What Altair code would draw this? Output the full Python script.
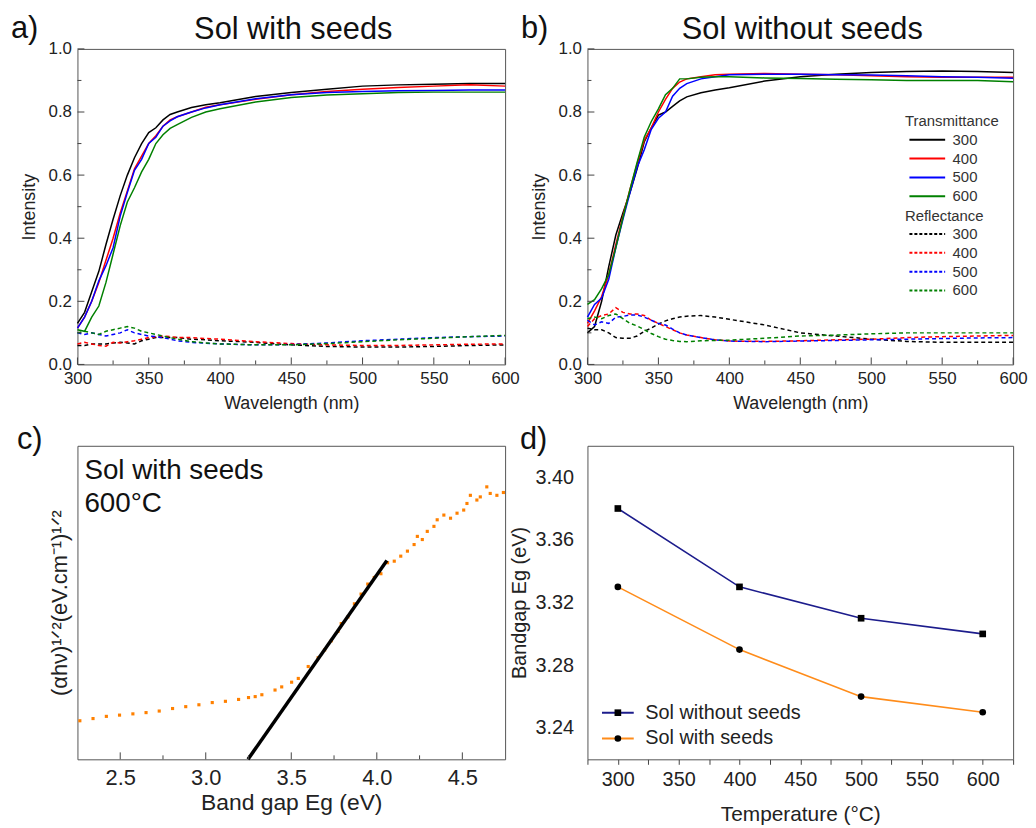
import altair as alt
import pandas as pd

# ---------------- data ----------------
WL = [300, 305, 310, 315, 320, 325, 330, 335, 340, 345, 350, 355, 360, 365, 370,
      380, 390, 400, 425, 450, 475, 500, 525, 550, 575, 600]

# panel a : Sol with seeds
A_T300 = [0.13, 0.165, 0.23, 0.295, 0.38, 0.46, 0.535, 0.60, 0.655, 0.70, 0.735, 0.75, 0.775, 0.792, 0.80,
          0.814, 0.823, 0.829, 0.849, 0.862, 0.872, 0.882, 0.886, 0.888, 0.890, 0.890]
A_T400 = [0.115, 0.15, 0.20, 0.26, 0.33, 0.40, 0.48, 0.55, 0.62, 0.66, 0.70, 0.725, 0.755, 0.775, 0.785,
          0.80, 0.815, 0.823, 0.84, 0.855, 0.865, 0.872, 0.878, 0.882, 0.886, 0.882]
A_T500 = [0.115, 0.15, 0.20, 0.265, 0.313, 0.37, 0.47, 0.545, 0.615, 0.65, 0.70, 0.72, 0.755, 0.772, 0.785,
          0.80, 0.813, 0.823, 0.842, 0.855, 0.862, 0.865, 0.867, 0.868, 0.87, 0.87]
A_T600 = [0.11, 0.105, 0.15, 0.185, 0.26, 0.35, 0.44, 0.515, 0.56, 0.61, 0.65, 0.70, 0.728, 0.748, 0.76,
          0.783, 0.80, 0.81, 0.832, 0.846, 0.854, 0.858, 0.862, 0.863, 0.863, 0.863]
A_R300 = [0.06, 0.06, 0.065, 0.065, 0.065, 0.068, 0.07, 0.068, 0.065, 0.075, 0.08, 0.085, 0.085, 0.085, 0.085,
          0.08, 0.078, 0.075, 0.07, 0.062, 0.057, 0.055, 0.055, 0.057, 0.06, 0.062]
A_R400 = [0.065, 0.07, 0.065, 0.06, 0.058, 0.07, 0.068, 0.072, 0.075, 0.08, 0.085, 0.088, 0.09, 0.088, 0.085,
          0.085, 0.082, 0.08, 0.072, 0.066, 0.062, 0.06, 0.06, 0.062, 0.064, 0.065]
A_R500 = [0.10, 0.095, 0.10, 0.095, 0.09, 0.095, 0.10, 0.11, 0.10, 0.095, 0.09, 0.088, 0.085, 0.08, 0.075,
          0.07, 0.067, 0.065, 0.062, 0.063, 0.068, 0.075, 0.08, 0.085, 0.088, 0.09]
A_R600 = [0.10, 0.105, 0.10, 0.095, 0.105, 0.11, 0.115, 0.12, 0.115, 0.105, 0.10, 0.095, 0.09, 0.085, 0.08,
          0.072, 0.068, 0.065, 0.062, 0.062, 0.066, 0.072, 0.078, 0.083, 0.088, 0.092]

# panel b : Sol without seeds
B_T300 = [0.10, 0.12, 0.20, 0.31, 0.41, 0.48, 0.545, 0.62, 0.705, 0.75, 0.79, 0.80, 0.818, 0.835, 0.848,
          0.861, 0.87, 0.877, 0.898, 0.912, 0.92, 0.925, 0.928, 0.93, 0.928, 0.925]
B_T400 = [0.13, 0.17, 0.215, 0.285, 0.38, 0.47, 0.555, 0.635, 0.71, 0.75, 0.80, 0.84, 0.875, 0.895, 0.905,
          0.912, 0.918, 0.92, 0.922, 0.92, 0.918, 0.915, 0.912, 0.91, 0.91, 0.91]
B_T500 = [0.15, 0.19, 0.21, 0.27, 0.37, 0.46, 0.545, 0.625, 0.68, 0.745, 0.78, 0.80, 0.85, 0.875, 0.89,
          0.905, 0.912, 0.918, 0.92, 0.92, 0.918, 0.917, 0.915, 0.912, 0.91, 0.907]
B_T600 = [0.19, 0.205, 0.24, 0.285, 0.37, 0.465, 0.555, 0.64, 0.72, 0.77, 0.81, 0.855, 0.875, 0.905, 0.905,
          0.91, 0.912, 0.912, 0.908, 0.906, 0.904, 0.902, 0.90, 0.90, 0.90, 0.896]
B_R300 = [0.115, 0.11, 0.11, 0.10, 0.085, 0.083, 0.083, 0.09, 0.105, 0.115, 0.128, 0.138, 0.145, 0.15, 0.153,
          0.155, 0.15, 0.143, 0.125, 0.10, 0.09, 0.08, 0.073, 0.07, 0.07, 0.07]
B_R400 = [0.12, 0.145, 0.155, 0.16, 0.18, 0.165, 0.16, 0.16, 0.155, 0.14, 0.13, 0.12, 0.11, 0.10, 0.093,
          0.085, 0.078, 0.074, 0.073, 0.075, 0.078, 0.08, 0.085, 0.088, 0.09, 0.092]
B_R500 = [0.14, 0.125, 0.135, 0.13, 0.15, 0.152, 0.157, 0.157, 0.15, 0.14, 0.13, 0.125, 0.112, 0.10, 0.093,
          0.085, 0.078, 0.074, 0.072, 0.074, 0.076, 0.078, 0.08, 0.082, 0.084, 0.085]
B_R600 = [0.145, 0.15, 0.145, 0.155, 0.16, 0.145, 0.13, 0.122, 0.11, 0.098, 0.088, 0.08, 0.076, 0.073, 0.072,
          0.075, 0.076, 0.077, 0.083, 0.09, 0.093, 0.097, 0.10, 0.10, 0.10, 0.10]

TEMPS = ["300", "400", "500", "600"]
LINE_COLORS = ["#000000", "#ff0000", "#0000ff", "#008000"]

X_MAJOR = [300, 350, 400, 450, 500, 550, 600]
X_MINOR = [325, 375, 425, 475, 525, 575]
Y_MAJOR = [0.0, 0.2, 0.4, 0.6, 0.8, 1.0]
Y_MINOR = [0.1, 0.3, 0.5, 0.7, 0.9]

# panel c : Tauc plot, Sol with seeds 600 C (arbitrary y units)
C_E = [2.264, 2.341, 2.419, 2.496, 2.574, 2.651, 2.728, 2.806, 2.883, 2.960, 3.038, 3.115, 3.192, 3.250,
       3.289, 3.328, 3.405, 3.444, 3.502, 3.541, 3.599, 3.657, 3.695, 3.734, 3.773, 3.792, 3.831, 3.869,
       3.908, 3.947, 3.985, 4.024, 4.063, 4.102, 4.140, 4.179, 4.218, 4.237, 4.266, 4.295, 4.334, 4.353,
       4.392, 4.431, 4.469, 4.508, 4.527, 4.547, 4.585, 4.605, 4.643, 4.663, 4.702, 4.740]
C_Y = [12.3, 13.0, 13.7, 14.1, 14.5, 14.9, 15.4, 16.2, 16.8, 17.4, 18.1, 18.5, 19.1, 19.7,
       20.0, 20.6, 22.1, 23.1, 24.6, 25.8, 29.6, 32.4, 34.9, 37.8, 40.8, 43.3, 45.4, 49.6,
       52.7, 55.9, 58.0, 59.2, 62.7, 63.2, 64.8, 66.4, 68.5, 71.1, 70.1, 72.7, 74.3, 76.4,
       77.9, 76.9, 78.5, 79.5, 81.6, 84.2, 82.7, 83.7, 86.9, 84.8, 84.2, 85.1]
FIT_E = [3.247, 4.059]
FIT_Y = [0.0, 63.4]
CX_MAJOR = [2.5, 3.0, 3.5, 4.0, 4.5]
CX_MINOR = [2.75, 3.25, 3.75, 4.25]

# panel d : band gap vs temperature
D_TEMP = [300, 400, 500, 600]
D_NOSEED = [3.38, 3.33, 3.31, 3.30]
D_SEED = [3.33, 3.29, 3.26, 3.25]
D_SERIES = ["Sol without seeds", "Sol with seeds"]
D_MARK_KEYS = ["without", "with"]
D_COLORS = ["#1c1c8c", "#ff8c1a"]
D_SHAPES = ["square", "circle"]
D_XTICKS = [275, 300, 325, 350, 375, 400, 425, 450, 475, 500, 525, 550, 575, 600, 625]
D_YTICKS = [3.24, 3.28, 3.32, 3.36, 3.40]

PANEL_LABELS = ["a)", "b)", "c)", "d)"]
PANEL_TITLES = ["Sol with seeds", "Sol without seeds"]
C_NOTES = ["Sol with seeds", "600°C"]

# ---------------- styling ----------------
FONT = "Liberation Sans"
AX = "#444444"
TXT = "#222222"
W1, W2 = 431, 429
H1, H2 = 318, 316


def long_df(series, key):
    rows = []
    for t, vals in zip(TEMPS, series):
        for w, v in zip(WL, vals):
            rows.append({"wl": w, "val": v, key: t})
    return pd.DataFrame(rows)


def label_chart(text, x, y, size=30, align="left"):
    return alt.Chart(pd.DataFrame({"t": [text]})).mark_text(
        align=align, baseline="alphabetic", fontSize=size, font=FONT, color="#111111"
    ).encode(text="t:N", x=alt.value(x), y=alt.value(y))


def xtick_layer(vals, scale, axis, length, H):
    return alt.Chart(pd.DataFrame({"v": vals})).mark_rule(color=AX, strokeWidth=1).encode(
        x=alt.X("v:Q", scale=scale, axis=axis), y=alt.value(H), y2=alt.value(H - length))


def ytick_layer(vals, scale, axis, length):
    return alt.Chart(pd.DataFrame({"v": vals})).mark_rule(color=AX, strokeWidth=1).encode(
        y=alt.Y("v:Q", scale=scale, axis=axis), x=alt.value(0), x2=alt.value(length))


def spectra(T, R, title, label, W, show_legend):
    xs = alt.Scale(domain=[300, 600], nice=False, zero=False)
    ys = alt.Scale(domain=[0, 1], nice=False)
    xax = alt.Axis(title="Wavelength (nm)", values=X_MAJOR, format="d", ticks=False, domain=False,
                   grid=False, labelFontSize=17, titleFontSize=18, labelPadding=6, titlePadding=8,
                   labelFlush=False)
    yax = alt.Axis(title="Intensity", values=Y_MAJOR, format=".1f", ticks=False, domain=False,
                   grid=False, labelFontSize=17, titleFontSize=18, labelPadding=6, titlePadding=10,
                   labelFlush=False)
    if show_legend:
        common = dict(orient="none", symbolType="M-1,0L11,0", symbolSize=36, symbolStrokeWidth=2,
                      labelFontSize=15, titleFontSize=15, titleFontWeight="normal", titleFont=FONT,
                      labelFont=FONT, titleColor="#333333", labelColor="#333333", titlePadding=3,
                      rowPadding=3, labelOffset=33, legendX=320)
        tleg = alt.Legend(title="Transmittance", legendY=66, **common)
        rleg = alt.Legend(title="Reflectance", legendY=161, symbolDash=[3, 2], **common)
    else:
        tleg = None
        rleg = None
    tl = alt.Chart(long_df(T, "tt")).mark_line(strokeWidth=1.5).encode(
        x=alt.X("wl:Q", scale=xs, axis=xax),
        y=alt.Y("val:Q", scale=ys, axis=yax),
        color=alt.Color("tt:N", scale=alt.Scale(domain=TEMPS, range=LINE_COLORS), legend=tleg),
    )
    rl = alt.Chart(long_df(R, "rt")).mark_line(strokeWidth=1.5, strokeDash=[4, 3]).encode(
        x=alt.X("wl:Q", scale=xs, axis=xax),
        y=alt.Y("val:Q", scale=ys, axis=yax),
        color=alt.Color("rt:N", scale=alt.Scale(domain=TEMPS, range=LINE_COLORS), legend=rleg),
    )
    layers = [tl, rl,
              xtick_layer(X_MAJOR, xs, xax, 7, H1), xtick_layer(X_MINOR, xs, xax, 4, H1),
              ytick_layer(Y_MAJOR, ys, yax, 7), ytick_layer(Y_MINOR, ys, yax, 4),
              label_chart(label, -67, -11, 31),
              label_chart(title, W / 2 + 2, -10, 31, "center")]
    return alt.layer(*layers).resolve_scale(color="independent").properties(width=W, height=H1)


panel_a = spectra([A_T300, A_T400, A_T500, A_T600], [A_R300, A_R400, A_R500, A_R600],
                  PANEL_TITLES[0], PANEL_LABELS[0], W1, False)
panel_b = spectra([B_T300, B_T400, B_T500, B_T600], [B_R300, B_R400, B_R500, B_R600],
                  PANEL_TITLES[1], PANEL_LABELS[1], W2, True)

# ---- panel c ----
cxs = alt.Scale(domain=[2.25, 4.75], nice=False, zero=False)
cys = alt.Scale(domain=[0, 100], nice=False)
cxa = alt.Axis(title="Band gap Eg (eV)", values=CX_MAJOR, format=".1f", ticks=False, domain=False,
               grid=False, labelFontSize=22, titleFontSize=23, labelPadding=8, titlePadding=4,
               labelFlush=False)
cya = alt.Axis(title="(αhν)¹ᐟ²(eV.cm⁻¹)¹ᐟ²", labels=False, ticks=False, domain=False, grid=False,
               titleFontSize=22, titlePadding=6)
c_dots = alt.Chart(pd.DataFrame({"e": C_E, "y": C_Y})).mark_point(
    shape="square", filled=True, size=10, color="#ff8000", opacity=1).encode(
    x=alt.X("e:Q", scale=cxs, axis=cxa), y=alt.Y("y:Q", scale=cys, axis=cya))
c_fit = alt.Chart(pd.DataFrame({"e": FIT_E, "y": FIT_Y})).mark_line(color="black", strokeWidth=3.5).encode(
    x=alt.X("e:Q", scale=cxs, axis=cxa), y=alt.Y("y:Q", scale=cys, axis=cya))
panel_c = alt.layer(
    c_dots, c_fit,
    xtick_layer(CX_MAJOR, cxs, cxa, 7, H2), xtick_layer(CX_MINOR, cxs, cxa, 4, H2),
    label_chart(C_NOTES[0], 7, 33, 28), label_chart(C_NOTES[1], 7, 67, 28),
    label_chart(PANEL_LABELS[2], -61, 3, 31),
).properties(width=W1, height=H2)

# ---- panel d ----
d_rows = []
for s, m, vals in zip(D_SERIES, D_MARK_KEYS, [D_NOSEED, D_SEED]):
    for t, v in zip(D_TEMP, vals):
        d_rows.append({"temp": t, "bg": v, "series": s, "series_m": m})
ddf = pd.DataFrame(d_rows)
dxs = alt.Scale(domain=[275, 625], nice=False, zero=False)
dys = alt.Scale(domain=[3.22, 3.42], nice=False, zero=False)
dxa = alt.Axis(title="Temperature (°C)", values=D_XTICKS, format="d",
               labelExpr="datum.value % 50 == 0 ? datum.label : ''",
               tickSize=5, tickColor=AX, domain=False, grid=False, labelFontSize=20,
               titleFontSize=21, labelPadding=5, titlePadding=15, labelFlush=False)
dya = alt.Axis(title="Bandgap Eg (eV)", values=D_YTICKS, format=".2f", ticks=False, domain=False,
               grid=False, labelFontSize=20, titleFontSize=20, labelPadding=14, titlePadding=6)
leg_common = dict(orient="none", title=None, labelFontSize=20, labelFont=FONT, labelColor=TXT,
                  rowPadding=6, legendY=259, legendX=20.65, symbolSize=45, labelOffset=17.6)
d_lines = alt.Chart(ddf).mark_line(strokeWidth=1.6).encode(
    x=alt.X("temp:Q", scale=dxs, axis=dxa),
    y=alt.Y("bg:Q", scale=dys, axis=dya),
    color=alt.Color("series:N", scale=alt.Scale(domain=D_SERIES, range=D_COLORS),
                    legend=alt.Legend(symbolType="M-4.77,0L4.77,0", symbolStrokeWidth=2, **leg_common)),
)
d_pts = alt.Chart(ddf).mark_point(filled=True, color="black", opacity=1, size=45).encode(
    x=alt.X("temp:Q", scale=dxs, axis=dxa),
    y=alt.Y("bg:Q", scale=dys, axis=dya),
    shape=alt.Shape("series_m:N", scale=alt.Scale(domain=D_MARK_KEYS, range=D_SHAPES),
                    legend=alt.Legend(symbolFillColor="black", symbolStrokeColor="black",
                                      symbolStrokeWidth=0, labelExpr="''", **leg_common)),
)
panel_d = alt.layer(d_lines, d_pts, label_chart(PANEL_LABELS[3], -68, 3, 31)).properties(width=W2, height=H2)

chart = alt.concat(panel_a, panel_b, panel_c, panel_d, columns=2,
                   spacing={"row": 10, "column": -12}).resolve_scale(
    color="independent", shape="independent", x="independent", y="independent"
).properties(
    padding={"left": 2, "top": 1, "right": 0, "bottom": 0}
).configure_view(stroke="#555555", strokeWidth=1).configure_axis(
    labelFont=FONT, titleFont=FONT, labelColor=TXT, titleColor=TXT, titleFontWeight="normal"
).configure_legend(labelFont=FONT, titleFont=FONT)

chart.save("out.html", embed_options={"renderer": "svg", "actions": False})
